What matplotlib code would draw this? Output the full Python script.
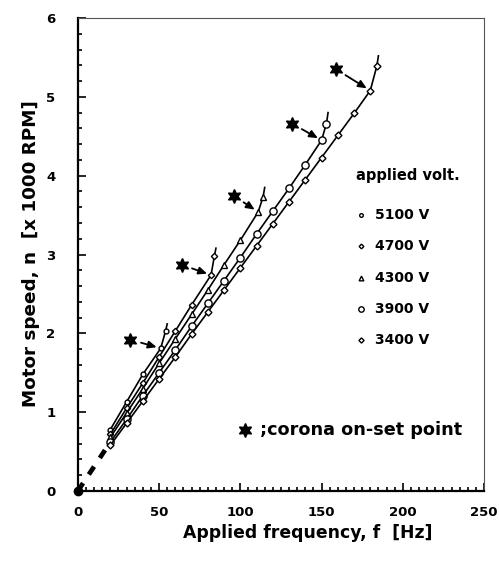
import matplotlib
matplotlib.use('Agg')
import matplotlib.pyplot as plt
from matplotlib.ticker import MultipleLocator

plt.rcParams['font.family'] = ['DejaVu Sans']
plt.rcParams['font.weight'] = 'bold'

# applied voltage series: frequency [Hz] and motor speed [x1000 RPM]
# last value of each list is the end of the line above the onset marker
f5100 = [20, 30, 40, 51, 54, 55]
n5100 = [0.78, 1.13, 1.48, 1.81, 2.03, 2.12]

f4700 = [20, 30, 40, 50, 60, 70, 82, 84, 85]
n4700 = [0.72, 1.05, 1.37, 1.70, 2.03, 2.36, 2.74, 2.98, 3.08]

f4300 = [20, 30, 40, 50, 60, 70, 80, 90, 100, 111, 114, 115]
n4300 = [0.68, 0.99, 1.30, 1.62, 1.93, 2.24, 2.55, 2.87, 3.18, 3.54, 3.73, 3.85]

f3900 = [20, 30, 40, 50, 60, 70, 80, 90, 100, 110, 120, 130, 140, 150, 153, 154]
n3900 = [0.62, 0.91, 1.21, 1.50, 1.79, 2.09, 2.38, 2.67, 2.96, 3.26, 3.55, 3.84,
         4.14, 4.45, 4.66, 4.80]

f3400 = [20, 30, 40, 50, 60, 70, 80, 90, 100, 110, 120, 130, 140, 150, 160, 170,
         180, 184, 185]
n3400 = [0.58, 0.86, 1.14, 1.42, 1.70, 1.99, 2.27, 2.55, 2.83, 3.11, 3.39, 3.67,
         3.95, 4.23, 4.51, 4.79, 5.08, 5.39, 5.52]

# corona on-set stars and the point each arrow points to
star_f = [32.3, 63.8, 96.3, 131.9, 158.9]
star_n = [1.92, 2.87, 3.74, 4.66, 5.35]
onset_f = [51, 82, 111, 150, 180]
onset_n = [1.81, 2.74, 3.54, 4.45, 5.08]

# extrapolation to origin
ext_f = [0, 20]
ext_n = [0, 0.62]

labels = ['5100 V', '4700 V', '4300 V', '3900 V', '3400 V']
markers = ['o', 'D', '^', 'o', 'D']
msizes = [3.5, 3.2, 4.5, 5.2, 3.5]
series = [(f5100, n5100), (f4700, n4700), (f4300, n4300), (f3900, n3900), (f3400, n3400)]

fig = plt.figure(figsize=(4.99, 5.74), dpi=100)
ax = fig.add_axes([0.156, 0.1446, 0.814, 0.824])

for (f, n), m, ms in zip(series, markers, msizes):
    ax.plot(f, n, color='black', lw=1.2, marker=m, ms=ms, mfc='white', mec='black',
            mew=1.0, markevery=list(range(len(f) - 1)), zorder=3)

ax.plot(ext_f, ext_n, color='black', lw=3.4, dashes=(2.0, 2.2), zorder=2)
ax.plot([0], [0], 'o', color='black', ms=6, clip_on=False, zorder=5)

ax.plot(star_f, star_n, ls='none', marker=(6, 1, 0), ms=10, color='black', zorder=4)
for sf, sn, of, on in zip(star_f, star_n, onset_f, onset_n):
    ax.annotate('', xy=(of, on), xytext=(sf, sn),
                arrowprops=dict(arrowstyle='-|>,head_length=0.5,head_width=0.22',
                                color='black', lw=1.3, shrinkA=8, shrinkB=3))

# legend drawn as text
ax.text(171, 4.0, 'applied volt.', fontsize=10.5, fontweight='bold', va='center')
leg_n = [3.5, 3.11, 2.7, 2.31, 1.92]
for ln, lab, m, ms in zip(leg_n, labels, markers, msizes):
    ax.plot([174], [ln], ls='none', marker=m, ms=ms * 0.75, mfc='white', mec='black', mew=1.0)
    ax.text(183, ln, lab, fontsize=10, fontweight='bold', va='center')

ax.plot([103], [0.78], ls='none', marker=(6, 1, 0), ms=10, color='black')
ax.text(112, 0.78, ';corona on-set point', fontsize=12.7, fontweight='bold', va='center')

ax.set_xlim(0, 250)
ax.set_ylim(0, 6)
ax.xaxis.set_major_locator(MultipleLocator(50))
ax.xaxis.set_minor_locator(MultipleLocator(5))
ax.yaxis.set_major_locator(MultipleLocator(1))
ax.yaxis.set_minor_locator(MultipleLocator(0.2))
ax.tick_params(which='both', direction='in', top=False, right=False, width=1.2)
ax.tick_params(which='major', length=6)
ax.tick_params(which='minor', length=3)
ax.tick_params(axis='y', pad=16, labelsize=9.5)
ax.tick_params(axis='x', pad=11, labelsize=9.5)

for s in ['left', 'bottom']:
    ax.spines[s].set_linewidth(1.6)
for s in ['top', 'right']:
    ax.spines[s].set_linewidth(0.8)
    ax.spines[s].set_color('#555555')

ax.set_xlabel('Applied frequency, f  [Hz]', fontsize=12.4, fontweight='bold')
ax.set_ylabel('Motor speed, n  [x 1000 RPM]', fontsize=13.2, fontweight='bold')
ax.xaxis.set_label_coords(0.566, -0.07)
ax.yaxis.set_label_coords(-0.092, 0.503)

fig.savefig('out.png', dpi=100)
